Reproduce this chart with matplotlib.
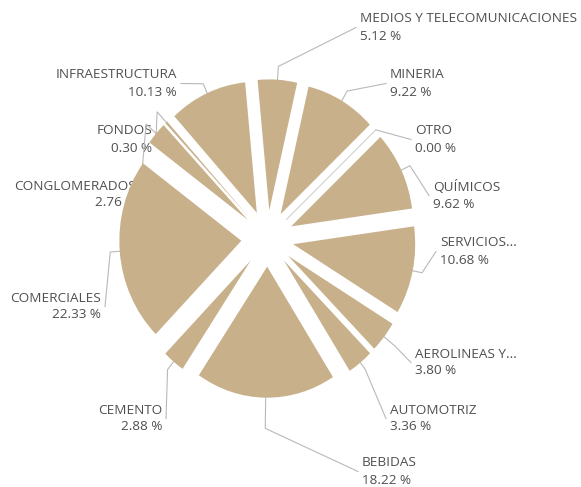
import numpy as np
import matplotlib
matplotlib.use('Agg')
import matplotlib.pyplot as plt

# ---- data ----
categories = ['MEDIOS Y TELECOMUNICACIONES', 'MINERIA', 'OTRO', 'QUÍMICOS',
              'SERVICIOS...', 'AEROLINEAS Y...', 'AUTOMOTRIZ', 'BEBIDAS',
              'CEMENTO', 'COMERCIALES', 'CONGLOMERADOS', 'FONDOS',
              'INFRAESTRUCTURA']
shares = [5.12, 9.22, 0.00, 9.62, 10.68, 3.80, 3.36, 18.22, 2.88, 22.33,
          2.76, 0.30, 10.13]
pct_labels = [f'{v:.2f} %' for v in shares]

# ---- layout (pixel positions of label text: x, y of first line, alignment) ----
label_pos = [(360, 19, 'left'), (390, 75, 'left'), (415, 131, 'left'),
             (433, 187, 'left'), (440, 243, 'left'), (415, 354, 'left'),
             (390, 410, 'left'), (362, 463, 'left'), (162, 410, 'right'),
             (101, 298, 'right'), (136, 186, 'right'), (152, 131, 'right'),
             (177, 75, 'right')]
elbow_px = [13, 11, 0, 10, 10, 14, 8, 30, 10, 10, 14, 14, 10]
LINE_GAP = 17

W, H = 581, 487
CX, CY = 267.5, 238.5
SX, SY = 122.0, 131.0
TAN = '#C8B08A'
TXT = '#4f4f4f'
LINE = '#b9b9b9'


def px(x, y):
    return ((x - CX) / SX, (CY - y) / SY)


fig = plt.figure(figsize=(W / 100, H / 100), dpi=100)
ax = fig.add_axes([0, 0, 1, 1])
EXPLODE = 0.215
wedges, _ = ax.pie(shares, explode=[EXPLODE] * len(shares), startangle=95.5,
                   counterclock=False, colors=[TAN] * len(shares),
                   wedgeprops=dict(linewidth=0, zorder=2), radius=1.0)
ax.set_aspect('auto')
ax.set_xlim(-CX / SX, (W - CX) / SX)
ax.set_ylim((CY - H) / SY, CY / SY)
ax.axis('off')

font = ['Open Sans', 'DejaVu Sans']
for i, w in enumerate(wedges):
    mid = np.radians((w.theta1 + w.theta2) / 2)
    cxw, cyw = w.center
    ux, uy = np.cos(mid), np.sin(mid)
    p0 = (cxw + ux, cyw + uy)
    el = elbow_px[i] / 128.0
    p1 = (cxw + (1 + el) * ux, cyw + (1 + el) * uy)
    lx, ly, ha = label_pos[i]
    endx = lx - 4 if ha == 'left' else lx + 4
    p2 = px(endx, ly + LINE_GAP / 2)
    ax.plot([p0[0], p1[0], p2[0]], [p0[1], p1[1], p2[1]], color=LINE,
            lw=0.8, zorder=1, solid_joinstyle='miter')
    if shares[i] == 0:
        ax.plot([cxw, p0[0]], [cyw, p0[1]], color='#d0d0d0', lw=0.8, zorder=3)
    tx, ty = px(lx, ly)
    ax.text(tx, ty, categories[i], ha=ha, va='center', fontsize=9.7,
            color=TXT, family=font, zorder=0.5)
    tx2, ty2 = px(lx, ly + LINE_GAP)
    ax.text(tx2, ty2, pct_labels[i], ha=ha, va='center', fontsize=9.7,
            color=TXT, family=font, zorder=0.5)

fig.savefig('out.png', dpi=100, facecolor='white')
